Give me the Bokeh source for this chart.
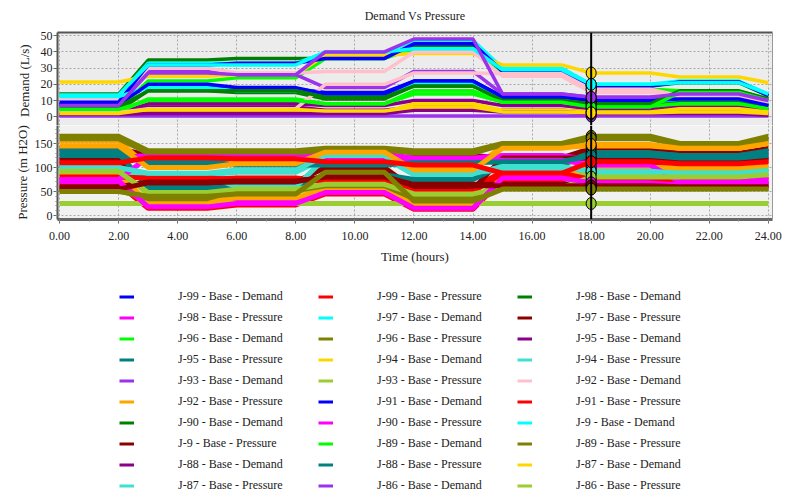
from bokeh.plotting import figure
from bokeh.models import (Range1d, FixedTicker, NumeralTickFormatter, Span, Legend,
                          LegendItem, LinearAxis)
from bokeh.layouts import column
from bokeh.embed import file_html
from bokeh.resources import INLINE

# ---------------- data ----------------
hours = [0, 2, 3, 5, 6, 8, 9, 11, 12, 14, 15, 17, 18, 20, 21, 23, 24]
cursor_time = 18
x_ticks = [0, 2, 4, 6, 8, 10, 12, 14, 16, 18, 20, 22, 24]
demand_ticks = [0, 10, 20, 30, 40, 50]
pressure_ticks = [0, 50, 100, 150]

# Demand (L/s)
d_j99 = [8, 8, 19.5, 19.5, 17, 17, 15, 15, 22, 22, 12.5, 12.5, 10, 10, 11, 11, 7]
d_j98 = [14, 14, 35, 35, 36, 36, 36, 36, 44, 44, 28, 28, 19, 19, 21, 21, 13]
d_j97 = [13, 13, 33, 33, 33, 33, 39.5, 39.5, 47, 47, 30, 30, 20, 20, 22, 22, 14]
d_j96 = [5, 5, 22, 22, 24, 24, 36, 36, 42, 42, 27, 27, 17, 17, 16, 16, 11]
d_j95 = [2, 2, 8, 8, 8, 8, 7, 7, 10, 10, 7, 7, 5, 5, 6, 6, 4]
d_j94 = [21.5, 21.5, 25, 25, 26, 26, 38, 38, 39, 39, 32, 32, 27, 27, 24.5, 24.5, 21]
d_j93 = [7, 7, 28, 28, 26, 26, 18, 18, 28, 28, 14, 14, 12, 12, 14, 14, 10]
d_j92 = [11, 11, 30, 30, 27, 27, 28, 28, 40, 40, 25, 25, 15, 15, 13, 13, 9]
d_j91 = [9, 9, 32, 32, 33, 33, 36, 36, 45, 45, 28, 28, 19, 19, 21.5, 21.5, 13]
d_j90 = [4, 4, 16, 16, 15, 15, 11, 11, 19, 19, 10, 10, 8, 8, 9.5, 9.5, 6]
d_j9 = [12.5, 12.5, 18, 18, 16, 16, 13, 13, 21, 21, 11, 11, 9, 9, 11, 11, 8]
d_j89 = [3, 3, 11, 11, 11, 11, 8, 8, 16, 16, 9, 9, 6.5, 6.5, 8, 8, 5]
d_j88 = [1, 1, 6, 6, 6, 6, 4, 4, 6, 6, 4, 4, 3, 3, 3, 3, 2]
d_j87 = [3, 3, 4, 4, 4, 4, 3, 3, 8, 8, 4, 4, 3, 3, 5, 5, 3]
d_j86 = [0.5, 0.5, 0.5, 0.5, 0.5, 0.5, 0.5, 0.5, 0.5, 0.5, 0.5, 0.5, 0.5, 0.5, 0.5, 0.5, 0.5]
d_j85 = [2.5, 2.5, 5, 5, 5, 5, 20, 20, 27, 27, 26.5, 26.5, 17, 17, 13, 13, 9]
d_j84 = [7.5, 7.5, 20, 20, 18, 18, 14, 14, 22, 22, 12, 12, 10, 10, 11, 11, 7]
d_j83 = [6, 6, 16, 16, 16, 16, 12, 12, 19, 19, 10, 10, 8, 8, 16, 16, 11]
d_j82 = [13.5, 13.5, 32, 32, 32, 32, 40, 40, 42, 42, 29, 29, 20, 20, 21, 21, 14]
d_j81 = [4.5, 4.5, 10, 10, 10, 10, 8, 8, 14, 14, 9, 9, 6, 6, 15, 15, 10]
d_j80 = [1.5, 1.5, 2, 2, 2, 2, 2, 2, 4, 4, 3, 3, 2, 2, 2, 2, 1]
d_j79 = [2, 2, 4.5, 4.5, 4.5, 4.5, 3.5, 3.5, 6, 6, 3, 3, 2.5, 2.5, 3, 3, 2]
d_j78 = [7, 7, 27, 27, 26, 26, 40, 40, 48, 48, 14, 14, 12, 12, 14, 14, 10]

# Pressure (m H2O)
p_j99 = [65, 65, 15, 15, 22, 22, 45, 45, 13, 13, 75, 75, 60, 60, 60, 60, 65]
p_j98 = [70, 70, 20, 20, 28, 28, 50, 50, 18, 18, 80, 80, 70, 70, 65, 65, 72]
p_j97 = [140, 140, 125, 125, 120, 120, 110, 110, 125, 125, 120, 120, 140, 140, 130, 130, 140]
p_j96 = [165, 165, 135, 135, 135, 135, 140, 140, 135, 135, 150, 150, 165, 165, 150, 150, 165]
p_j95 = [135, 135, 110, 110, 115, 115, 125, 125, 115, 115, 110, 110, 130, 130, 125, 125, 135]
p_j94 = [100, 100, 85, 85, 90, 90, 120, 120, 85, 85, 100, 100, 90, 90, 90, 90, 95]
p_j93 = [25, 25, 25, 25, 25, 25, 25, 25, 25, 25, 25, 25, 25, 25, 25, 25, 25]
p_j92 = [155, 155, 102, 102, 110, 110, 130, 130, 100, 100, 143, 143, 145, 145, 140, 140, 150]
p_j91 = [105, 105, 75, 75, 78, 78, 70, 70, 60, 60, 90, 90, 110, 110, 110, 110, 115]
p_j90 = [120, 120, 125, 125, 125, 125, 128, 128, 120, 120, 125, 125, 115, 115, 120, 120, 125]
p_j9 = [115, 115, 65, 65, 70, 70, 100, 100, 55, 55, 120, 120, 120, 120, 115, 115, 120]
p_j89 = [160, 160, 130, 130, 130, 130, 137, 137, 130, 130, 147, 147, 160, 160, 147, 147, 160]
p_j88 = [130, 130, 58, 58, 60, 60, 85, 85, 75, 75, 105, 105, 130, 130, 125, 125, 132]
p_j87 = [90, 90, 82, 82, 60, 60, 120, 120, 90, 90, 95, 95, 88, 88, 85, 85, 90]
p_j86 = [95, 95, 45, 45, 50, 50, 60, 60, 40, 40, 60, 60, 95, 95, 95, 95, 100]
p_j85 = [85, 85, 28, 28, 37, 37, 55, 55, 25, 25, 85, 85, 100, 100, 100, 100, 105]
p_j84 = [80, 80, 78, 78, 75, 75, 75, 75, 50, 50, 88, 88, 75, 75, 75, 75, 80]
p_j83 = [75, 75, 122, 122, 122, 122, 115, 115, 118, 118, 115, 115, 105, 105, 70, 70, 75]
p_j82 = [60, 60, 70, 70, 72, 72, 80, 80, 65, 65, 65, 65, 65, 65, 62, 62, 62]
p_j81 = [52, 52, 35, 35, 52, 52, 62, 62, 35, 35, 56, 56, 56, 56, 56, 56, 57]
p_j80 = [125, 125, 110, 110, 105, 105, 105, 105, 110, 110, 112, 112, 125, 125, 120, 120, 125]
p_j79 = [100, 100, 88, 88, 95, 95, 125, 125, 87, 87, 102, 102, 92, 92, 88, 88, 93]
p_j78 = [92, 92, 48, 48, 55, 55, 65, 65, 45, 45, 58, 58, 80, 80, 80, 80, 85]
p_j77 = [145, 145, 100, 100, 108, 108, 132, 132, 95, 95, 140, 140, 148, 148, 140, 140, 150]
p_j76 = [110, 110, 120, 120, 118, 118, 112, 112, 105, 105, 88, 88, 112, 112, 108, 108, 112]
p_j75 = [72, 72, 18, 18, 25, 25, 48, 48, 15, 15, 78, 78, 68, 68, 63, 63, 70]
p_j74 = [55, 55, 68, 68, 70, 70, 82, 82, 62, 62, 62, 62, 62, 62, 60, 60, 60]
p_j73 = [50, 50, 40, 40, 45, 45, 90, 90, 30, 30, 55, 55, 55, 55, 55, 55, 55]

junctions = ["J-99", "J-98", "J-97", "J-96", "J-95", "J-94", "J-93", "J-92", "J-91",
             "J-90", "J-9", "J-89", "J-88", "J-87", "J-86", "J-85", "J-84", "J-83",
             "J-82", "J-81", "J-80", "J-79", "J-78", "J-77", "J-76", "J-75", "J-74", "J-73"]
demand_data = [d_j99, d_j98, d_j97, d_j96, d_j95, d_j94, d_j93, d_j92, d_j91, d_j90,
               d_j9, d_j89, d_j88, d_j87, d_j86, d_j85, d_j84, d_j83, d_j82, d_j81,
               d_j80, d_j79, d_j78]
pressure_data = [p_j99, p_j98, p_j97, p_j96, p_j95, p_j94, p_j93, p_j92, p_j91, p_j90,
                 p_j9, p_j89, p_j88, p_j87, p_j86, p_j85, p_j84, p_j83, p_j82, p_j81,
                 p_j80, p_j79, p_j78, p_j77, p_j76, p_j75, p_j74, p_j73]
legend_junctions = 15  # J-99 .. J-86 appear in the visible legend

palette = ["#0000ff", "#ff0000", "#008000", "#ff00ff", "#00ffff", "#8b0000",
           "#00ff00", "#808000", "#8b008b", "#008080", "#ffd700", "#40e0d0",
           "#9a32ee", "#9acd32", "#ffc0cb", "#ffa500"]

# ---------------- styling ----------------
SERIF = "Liberation Serif"
W = 789
xr = Range1d(-0.07, 24.14)
cursor_idx = hours.index(cursor_time)


def style_axis(ax):
    ax.major_label_text_font = SERIF
    ax.major_label_text_font_size = "12px"
    ax.major_label_text_color = "#222222"
    ax.axis_label_text_font = SERIF
    ax.axis_label_text_font_size = "13px"
    ax.axis_label_text_font_style = "normal"
    ax.axis_label_text_color = "#222222"
    ax.major_tick_in = 0
    ax.minor_tick_in = 0
    ax.major_tick_out = 4
    ax.minor_tick_out = 2
    ax.major_tick_line_color = "#666666"
    ax.minor_tick_line_color = "#888888"


def border_axis(color, width):
    return LinearAxis(ticker=FixedTicker(ticks=[]), axis_line_color=color,
                      axis_line_width=width, major_tick_line_color=None,
                      minor_tick_line_color=None, major_label_text_font_size="0px")


# ---- top: demand ----
p1 = figure(width=W, height=125, x_range=xr, y_range=Range1d(-5.4, 52),
            output_backend="svg", toolbar_location=None, x_axis_location=None,
            min_border_left=57, min_border_right=17, min_border_top=30,
            min_border_bottom=0, title="Demand Vs Pressure",
            y_axis_label="Demand  (L/s)")
p1.title.text_font = SERIF
p1.title.text_font_size = "12px"
p1.title.text_font_style = "normal"
p1.title.text_color = "#222222"
p1.title.align = "center"
p1.title.vertical_align = "top"
p1.title.standoff = 16
p1.outline_line_color = None
p1.background_fill_color = "#ececec"
p1.border_fill_color = "white"
p1.yaxis.ticker = FixedTicker(ticks=demand_ticks)
style_axis(p1.yaxis[0])
p1.yaxis.axis_line_color = "#555555"
p1.yaxis.axis_line_width = 2
p1.yaxis.major_label_standoff = 1
p1.yaxis.axis_label_standoff = 6
p1.add_layout(border_axis("#555555", 2), "above")
p1.add_layout(border_axis("#999999", 1), "right")
p1.xgrid.ticker = FixedTicker(ticks=x_ticks)
for g in (p1.xgrid[0], p1.ygrid[0]):
    g.grid_line_color = "#a8a8a8"
    g.grid_line_dash = "2 2"

# ---- middle: pressure ----
p2 = figure(width=W, height=144, x_range=xr, y_range=Range1d(-8.3, 187.5),
            output_backend="svg", toolbar_location=None,
            min_border_left=57, min_border_right=17, min_border_top=0,
            min_border_bottom=50, x_axis_label="Time (hours)",
            y_axis_label="Pressure (m H2O)")
p2.outline_line_color = None
p2.background_fill_color = "#f1f1f1"
p2.border_fill_color = "white"
p2.xaxis.ticker = FixedTicker(ticks=x_ticks, minor_ticks=list(range(25)))
p2.xaxis.formatter = NumeralTickFormatter(format="0.00")
style_axis(p2.xaxis[0])
p2.xaxis.axis_line_color = "#666666"
p2.xaxis.axis_line_width = 3
p2.xaxis.major_label_standoff = 8
p2.xaxis.axis_label_standoff = 6
p2.yaxis.ticker = FixedTicker(ticks=pressure_ticks,
                              minor_ticks=[0, 10, 20, 30, 40, 50, 60, 70, 80, 90, 100,
                                           110, 120, 130, 140, 150, 160, 170, 180])
style_axis(p2.yaxis[0])
p2.yaxis.axis_line_color = "#555555"
p2.yaxis.axis_line_width = 2
p2.yaxis.major_label_standoff = 1
p2.yaxis.axis_label_standoff = 2
p2.add_layout(border_axis("#999999", 1), "right")
p2.xgrid.ticker = FixedTicker(ticks=x_ticks)
for g in (p2.xgrid[0], p2.ygrid[0]):
    g.grid_line_color = "#a8a8a8"
    g.grid_line_dash = "2 2"

# ---- bottom: legend area ----
p3 = figure(width=W, height=227, x_range=xr, y_range=Range1d(-10, 200),
            output_backend="svg", toolbar_location=None,
            x_axis_location=None, y_axis_location=None,
            min_border_left=57, min_border_right=17, min_border_top=17,
            min_border_bottom=0)
p3.outline_line_color = None
p3.grid.visible = False
p3.background_fill_color = "white"
p3.border_fill_color = "white"

# ---- series ----
demand_proxy = {}
pressure_proxy = {}
for i, vals in enumerate(demand_data):
    c = palette[(2 * i) % 16]
    p1.line(hours, vals, line_color=c, line_width=3.5)
    demand_proxy[i] = p3.line(hours, vals, line_color=c, line_width=3, visible=False)

for i, vals in enumerate(pressure_data):
    c = palette[(2 * i + 1) % 16]
    p2.line(hours, vals, line_color=c, line_width=5)
    pressure_proxy[i] = p3.line(hours, vals, line_color=c, line_width=3, visible=False)

# cursor line and markers
for p in (p1, p2):
    p.add_layout(Span(location=cursor_time, dimension="height", line_color="black",
                      line_width=2))
for i, vals in enumerate(demand_data):
    p1.ellipse(x=[cursor_time], y=[vals[cursor_idx]], width=10, height=12,
               width_units="screen", height_units="screen",
               fill_color=palette[(2 * i) % 16], line_color="black", line_width=1)
for i, vals in enumerate(pressure_data):
    p2.ellipse(x=[cursor_time], y=[vals[cursor_idx]], width=10, height=12,
               width_units="screen", height_units="screen",
               fill_color=palette[(2 * i + 1) % 16], line_color="black", line_width=1)

# ---- legend ----
items = []
for i in range(legend_junctions):
    items.append(LegendItem(label=f"{junctions[i]} - Base - Demand",
                            renderers=[demand_proxy[i]]))
    items.append(LegendItem(label=f"{junctions[i]} - Base - Pressure",
                            renderers=[pressure_proxy[i]]))
legend = Legend(items=items, orientation="horizontal", ncols=3,
                location=(62, 0), margin=0, padding=0, spacing=0,
                glyph_width=15, glyph_height=21, label_height=21,
                label_width=140, label_standoff=44,
                label_text_font=SERIF, label_text_font_size="12px",
                label_text_color="#222222", border_line_color=None,
                background_fill_alpha=0, click_policy="none")
p3.add_layout(legend, "center")

layout = column(p1, p2, p3, spacing=0)
open("out.html", "w").write(file_html(layout, INLINE))
